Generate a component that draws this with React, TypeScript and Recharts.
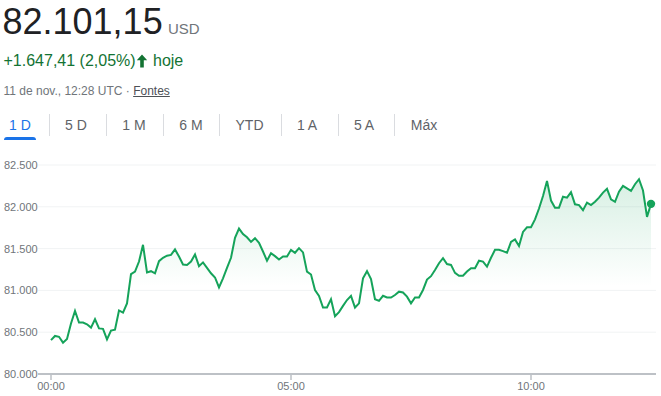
import { AreaChart, Area, XAxis, YAxis, CartesianGrid, ReferenceDot } from "recharts"

// price every 5 minutes from 00:00 to 12:30
const prices = [
  80405, 80455, 80445, 80375, 80420, 80605, 80755, 80615, 80615, 80595, 80555, 80655,
  80545, 80540, 80415, 80520, 80530, 80760, 80735, 80845, 81195, 81225, 81345, 81545,
  81215, 81230, 81205, 81350, 81390, 81415, 81425, 81490, 81405, 81310, 81305, 81345,
  81430, 81290, 81335, 81270, 81205, 81155, 81035, 81145, 81270, 81390, 81630, 81740,
  81675, 81635, 81580, 81625, 81570, 81465, 81355, 81445, 81410, 81370, 81405, 81405,
  81485, 81450, 81505, 81455, 81225, 81190, 81005, 80935, 80795, 80795, 80895, 80690,
  80740, 80815, 80885, 80935, 80795, 80845, 81145, 81230, 81135, 80895, 80875, 80935,
  80915, 80915, 80945, 80985, 80975, 80925, 80845, 80915, 80915, 81005, 81130, 81170,
  81245, 81325, 81385, 81315, 81305, 81210, 81175, 81175, 81225, 81265, 81265, 81355,
  81345, 81285, 81390, 81485, 81485, 81470, 81450, 81580, 81610, 81530, 81700, 81755,
  81755, 81850, 81980, 82130, 82310, 82075, 81990, 81990, 82120, 82110, 82175, 82030,
  82020, 81960, 82050, 82020, 82060, 82110, 82170, 82215, 82090, 82060, 82180, 82250,
  82220, 82190, 82270, 82330, 82195, 81880, 82035,
]

const stepMinutes = 5
const times = prices.map((_, i) => {
  const m = i * stepMinutes
  return `${String(Math.floor(m / 60)).padStart(2, "0")}:${String(m % 60).padStart(2, "0")}`
})

const xTicks = ["00:00", "05:00", "10:00"]
const yTicks = [80000, 80500, 81000, 81500, 82000, 82500]
const tabs = ["1 D", "5 D", "1 M", "6 M", "YTD", "1 A", "5 A", "Máx"]
const tabCenters = [20, 76, 134, 191, 249.5, 307, 364, 424]
const tabSeparators = [49, 106, 163, 219, 281, 338, 394]

const data = prices.map((p, i) => ({ time: times[i], price: p }))

const GREEN = "#15a35a"
const FONT = "'Liberation Sans', Arial, sans-serif"

const fmt = (v: number) => `${Math.floor(v / 1000)}.${String(v % 1000).padStart(3, "0")}`

// place text by its baseline
function txt(left: number, baseline: number, size: number) {
  return {
    position: "absolute" as const,
    left,
    top: baseline - 0.8465 * size,
    fontSize: size,
    lineHeight: `${size}px`,
    whiteSpace: "nowrap" as const,
  }
}

const YTick = (props: any) => {
  const { y, payload } = props
  return (
    <text x={4} y={y} dy="0.355em" textAnchor="start" fill="#70757a" fontSize={11} fontFamily={FONT}>
      {fmt(payload.value)}
    </text>
  )
}

export default function App() {
  return (
    <div style={{ position: "relative", width: 661, height: 396, fontFamily: FONT, background: "#fff", overflow: "hidden" }}>
      <style>{`body{margin:0}`}</style>
      <div style={{ ...txt(2.5, 34, 36), color: "#202124" }}>82.101,15</div>
      <div style={{ ...txt(168, 34, 15), color: "#70757a" }}>USD</div>

      <div style={{ ...txt(3.5, 66.7, 16), color: "#137333" }}>+1.647,41 (2,05%)</div>
      <svg style={{ position: "absolute", left: 136, top: 54 }} width={12} height={14} viewBox="0 0 12 14">
        <path d="M6 0.5L0.8 6.2h3.4V13.5h3.6V6.2h3.4z" fill="#137333" />
      </svg>
      <div style={{ ...txt(153, 66.7, 16), color: "#137333" }}>hoje</div>

      <div style={{ ...txt(3.5, 94.7, 12), color: "#70757a" }}>
        11 de nov., 12:28 UTC ·{" "}
        <span style={{ textDecoration: "underline", color: "#4d5156" }}>Fontes</span>
      </div>

      {tabs.map((t, i) => (
        <div
          key={t}
          style={{
            ...txt(tabCenters[i] - 28, 130, 14),
            width: 56,
            textAlign: "center",
            color: i === 0 ? "#1a73e8" : "#5f6368",
          }}
        >
          {t}
        </div>
      ))}
      {tabSeparators.map((x) => (
        <div key={x} style={{ position: "absolute", left: x, top: 114, width: 1, height: 22, background: "#dadce0" }} />
      ))}
      <div
        style={{
          position: "absolute",
          left: 4,
          top: 137,
          width: 32,
          height: 3,
          background: "#1a73e8",
          borderRadius: "3px 3px 0 0",
        }}
      />

      <div style={{ position: "absolute", left: 0, top: 150 }}>
        <AreaChart width={661} height={246} data={data} margin={{ top: 15, right: 5, bottom: 0, left: 0 }}>
          <defs>
            <linearGradient id="fillGreen" x1="0" y1="0" x2="0" y2="1">
              <stop offset="0%" stopColor={GREEN} stopOpacity={0.28} />
              <stop offset="55%" stopColor={GREEN} stopOpacity={0} />
            </linearGradient>
          </defs>
          <CartesianGrid vertical={false} stroke="#f1f3f4" />
          <XAxis
            dataKey="time"
            scale="point"
            ticks={xTicks}
            interval={0}
            padding={{ left: 13, right: 5 }}
            height={22}
            axisLine={{ stroke: "#bdc1c6", strokeWidth: 2 }}
            tickLine={{ stroke: "#bdc1c6", strokeWidth: 1.5 }}
            tickSize={6}
            tickMargin={2}
            tick={{ fill: "#70757a", fontSize: 11, fontFamily: FONT }}
          />
          <YAxis
            domain={[80000, 82500]}
            ticks={yTicks}
            width={38}
            axisLine={false}
            tickLine={false}
            tick={<YTick />}
          />
          <Area
            type="linear"
            dataKey="price"
            stroke={GREEN}
            strokeWidth={2}
            fill="url(#fillGreen)"
            isAnimationActive={false}
            dot={false}
            activeDot={false}
          />
          <ReferenceDot x={times[times.length - 1]} y={prices[prices.length - 1]} r={4.2} fill={GREEN} stroke="none" />
        </AreaChart>
      </div>
    </div>
  )
}
